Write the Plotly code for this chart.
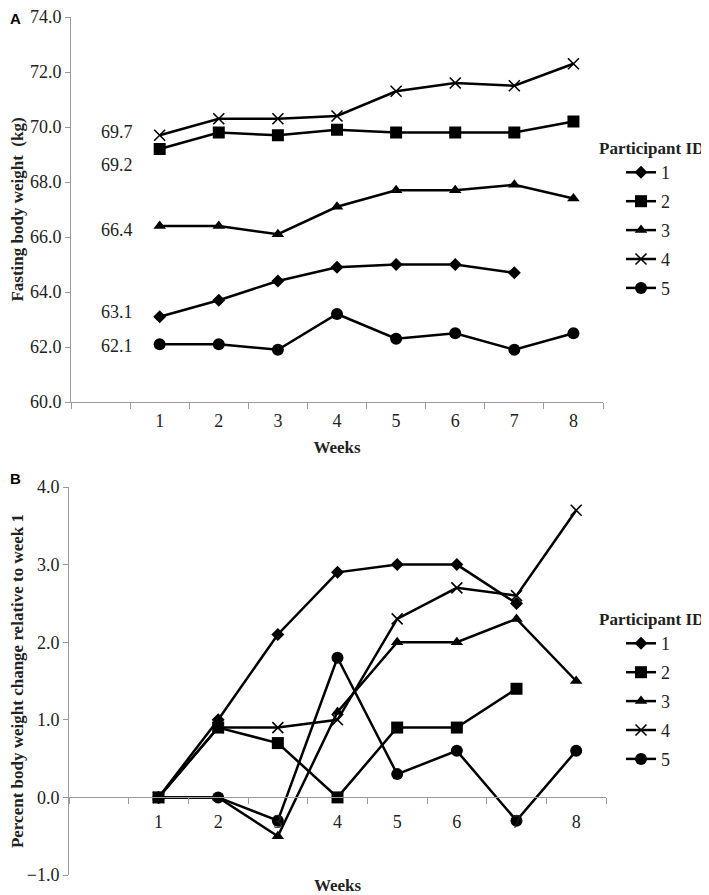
import plotly.graph_objects as go

# ---------------- data ----------------
weeks = [1, 2, 3, 4, 5, 6, 7, 8]
week_tick_labels = ["1", "2", "3", "4", "5", "6", "7", "8"]
participants = ["1", "2", "3", "4", "5"]

# Panel A: fasting body weight (kg)
weight_p1 = [63.1, 63.7, 64.4, 64.9, 65.0, 65.0, 64.7]
weight_p2 = [69.2, 69.8, 69.7, 69.9, 69.8, 69.8, 69.8, 70.2]
weight_p3 = [66.4, 66.4, 66.1, 67.1, 67.7, 67.7, 67.9, 67.4]
weight_p4 = [69.7, 70.3, 70.3, 70.4, 71.3, 71.6, 71.5, 72.3]
weight_p5 = [62.1, 62.1, 61.9, 63.2, 62.3, 62.5, 61.9, 62.5]

# Panel B: percent body weight change relative to week 1
change_p1 = [0.0, 1.0, 2.1, 2.9, 3.0, 3.0, 2.5]
change_p2 = [0.0, 0.9, 0.7, 0.0, 0.9, 0.9, 1.4]
change_p3 = [0.0, 0.0, -0.5, 1.1, 2.0, 2.0, 2.3, 1.5]
change_p4 = [0.0, 0.9, 0.9, 1.0, 2.3, 2.7, 2.6, 3.7]
change_p5 = [0.0, 0.0, -0.3, 1.8, 0.3, 0.6, -0.3, 0.6]

weights = [weight_p1, weight_p2, weight_p3, weight_p4, weight_p5]
changes = [change_p1, change_p2, change_p3, change_p4, change_p5]

# starting-weight labels shown left of week 1
start_labels = ["63.1", "69.2", "66.4", "69.7", "62.1"]
start_label_shift = [5, -16, -4, 3, -2]

# ---------------- styling ----------------
symbols = ["diamond", "square", "triangle-up", "x-thin", "circle"]
sizes = [10, 12, 11, 11, 12]
SERIF = "Liberation Serif, Times New Roman, serif"
SANS = "Liberation Sans, Arial, sans-serif"
AXIS_GRAY = "#9a9a9a"
TXT = "#222"

OFF = 8                      # page body margin offset
W, H = 709 - OFF, 895 - OFF  # figure size so it fits the window

def px(v):
    return v - OFF

# screen-pixel layout of the two panels
A_x0, A_x1, A_y0, A_y1 = 71, 603, 17, 402
B_x0, B_x1, B_y0, B_y1 = 69, 606, 487, 875

def xdom(a, b):
    return [px(a) / W, px(b) / W]

def ydom(top, bot):
    return [1 - px(bot) / H, 1 - px(top) / H]

def xpaper(v):
    return px(v) / W

def ypaper(v):
    return 1 - px(v) / H

fig = go.Figure()

def marker_for(i):
    return dict(symbol=symbols[i], size=sizes[i], color="black",
                line=dict(color="black", width=1.6 if symbols[i] == "x-thin" else 0))

for i in range(5):
    fig.add_trace(go.Scatter(
        x=weeks[:len(weights[i])], y=weights[i], name=participants[i],
        mode="lines+markers", line=dict(color="black", width=2.5),
        marker=marker_for(i), xaxis="x", yaxis="y", legend="legend",
        legendgroup="a" + participants[i], cliponaxis=False))
for i in range(5):
    fig.add_trace(go.Scatter(
        x=weeks[:len(changes[i])], y=changes[i], name=participants[i],
        mode="lines+markers", line=dict(color="black", width=2.5),
        marker=marker_for(i), xaxis="x2", yaxis="y2", legend="legend2",
        legendgroup="b" + participants[i], cliponaxis=False))

xaxis_common = dict(
    range=[-0.5, 8.5], tickmode="array", tickvals=weeks, ticktext=week_tick_labels,
    ticks="", showgrid=False, zeroline=False, showline=True, linecolor=AXIS_GRAY,
    linewidth=1, tickfont=dict(family=SERIF, size=18, color=TXT), automargin=False,
    ticklabeloverflow="allow",
    minor=dict(ticks="outside", tick0=0.5, dtick=1, ticklen=6, tickcolor=AXIS_GRAY,
               showgrid=False),
)
yaxis_common = dict(
    ticks="outside", ticklen=5, tickcolor=AXIS_GRAY, showgrid=False, zeroline=False,
    showline=True, linecolor=AXIS_GRAY, tickformat=".1f", automargin=False,
    ticklabeloverflow="allow",
    tickfont=dict(family=SERIF, size=18, color=TXT),
)

B_range = [-1, 4]
B_dom = ydom(B_y0, B_y1)
zero_pos = B_dom[0] + (0 - B_range[0]) / (B_range[1] - B_range[0]) * (B_dom[1] - B_dom[0])

legend_common = dict(
    xanchor="left", yanchor="top",
    title=dict(text="<b>Participant ID</b>", font=dict(family=SERIF, size=17, color=TXT)),
    font=dict(family=SERIF, size=18, color=TXT), indentation=24,
    bgcolor="rgba(0,0,0,0)", tracegroupgap=2.5,
)

fig.update_layout(
    width=W, height=H, margin=dict(l=0, r=0, t=0, b=0),
    paper_bgcolor="white", plot_bgcolor="white",
    font=dict(family=SERIF, color=TXT),
    xaxis=dict(xaxis_common, domain=xdom(A_x0, A_x1), anchor="y", ticklabelstandoff=2,
               title=dict(text="<b>Weeks</b>", font=dict(family=SERIF, size=17, color=TXT),
                          standoff=11)),
    yaxis=dict(yaxis_common, domain=ydom(A_y0, A_y1), range=[60, 74], dtick=2, anchor="x",
               title=dict(text="<b>Fasting body weight  (kg)</b>",
                          font=dict(family=SERIF, size=17, color=TXT), standoff=10)),
    xaxis2=dict(xaxis_common, domain=xdom(B_x0, B_x1), anchor="free", position=zero_pos,
                ticklabelstandoff=8,
                title=dict(text="<b>Weeks</b>", font=dict(family=SERIF, size=17, color=TXT),
                           standoff=48)),
    yaxis2=dict(yaxis_common, domain=B_dom, range=B_range, dtick=1, anchor="x2",
                title=dict(text="<b>Percent body weight change relative to week 1</b>",
                           font=dict(family=SERIF, size=17, color=TXT), standoff=10)),
    legend=dict(legend_common, x=xpaper(597), y=ypaper(132)),
    legend2=dict(legend_common, x=xpaper(597), y=ypaper(603)),
    showlegend=True,
)

# starting weight labels
for i in range(5):
    fig.add_annotation(x=0.5, y=weights[i][0], xref="x", yref="y", text=start_labels[i],
                       showarrow=False, xanchor="right", xshift=5,
                       yshift=start_label_shift[i],
                       font=dict(family=SERIF, size=18, color=TXT))

# panel letters
fig.add_annotation(x=0, y=1, xref="paper", yref="paper", text="<b>A</b>",
                   showarrow=False, xanchor="left", yanchor="top",
                   font=dict(family=SANS, size=15, color="black"))
fig.add_annotation(x=0, y=ypaper(468), xref="paper", yref="paper", text="<b>B</b>",
                   showarrow=False, xanchor="left", yanchor="top",
                   font=dict(family=SANS, size=15, color="black"))

fig.write_html("out.html")
